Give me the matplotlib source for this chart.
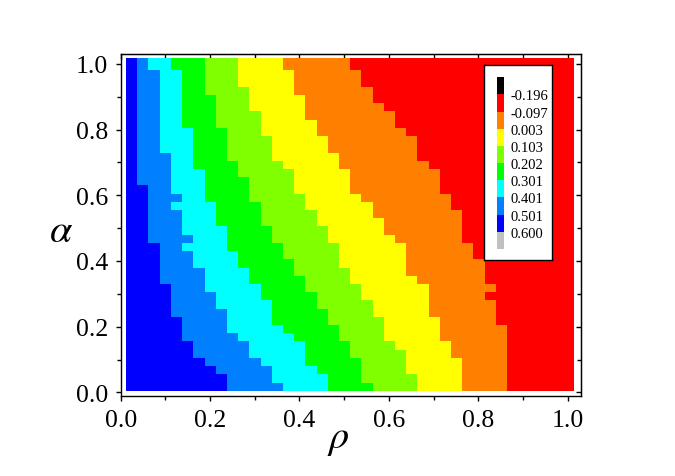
import numpy as np
import matplotlib
matplotlib.use('Agg')
import matplotlib.pyplot as plt
from matplotlib.colors import ListedColormap, BoundaryNorm

plt.rcParams['font.family'] = ['Liberation Serif', 'DejaVu Serif']
plt.rcParams['mathtext.fontset'] = 'stix'

# contour levels shown in the key (top to bottom)
levels = [-0.196, -0.097, 0.003, 0.103, 0.202, 0.301, 0.401, 0.501, 0.600]
level_colors = ['#000000', '#FF0000', '#FF8000', '#FFFF00', '#80FF00',
                '#00FF00', '#00FFFF', '#0080FF', '#0000FF', '#C0C0C0']

# grid: 40 rho columns x 40 alpha rows
# for each row (top row first) the first column index of each colour band
start_dodger = [1, 1, 1, 1, 1, 1, 1, 1, 1, 1, 1, 1, 1, 1, 1, 2, 2, 2, 2, 2,
                2, 2, 3, 3, 3, 3, 3, 4, 4, 4, 4, 5, 5, 5, 6, 6, 7, 8, 9, 9]
start_cyan = [2, 3, 3, 3, 3, 3, 3, 3, 3, 3, 3, 4, 4, 4, 4, 4, 5, 4, 5, 5,
              5, 6, 5, 6, 6, 7, 7, 7, 8, 8, 9, 9, 9, 10, 11, 11, 12, 13, 13, 14]
start_green = [4, 5, 5, 5, 5, 5, 5, 5, 6, 6, 6, 6, 6, 7, 7, 7, 7, 8, 8, 8,
               9, 9, 9, 10, 10, 11, 11, 12, 12, 13, 13, 13, 14, 15, 16, 16, 16,
               17, 18, 18]
start_chart = [7, 7, 7, 7, 8, 8, 8, 8, 9, 9, 9, 9, 10, 10, 11, 11, 11, 12, 12,
               12, 13, 13, 14, 14, 15, 15, 16, 16, 17, 17, 18, 18, 19, 19, 20,
               20, 21, 21, 21, 22]
start_yellow = [10, 10, 10, 11, 11, 11, 12, 12, 12, 13, 13, 13, 14, 15, 15,
                15, 16, 16, 17, 17, 18, 18, 19, 19, 19, 20, 20, 21, 21, 22, 22,
                23, 23, 23, 24, 25, 25, 25, 26, 26]
start_orange = [14, 15, 15, 15, 16, 16, 16, 17, 17, 18, 18, 19, 19, 20, 20,
                20, 21, 22, 22, 23, 23, 24, 25, 25, 25, 25, 26, 27, 27, 27, 27,
                28, 28, 28, 29, 29, 30, 30, 30, 30]
start_red = [20, 21, 21, 22, 22, 23, 24, 24, 25, 26, 26, 26, 27, 28, 28, 28,
             29, 29, 30, 30, 30, 30, 31, 31, 32, 32, 32, 33, 32, 33, 33, 33,
             34, 34, 34, 34, 34, 34, 34, 34]

x_ticks = [0.0, 0.2, 0.4, 0.6, 0.8, 1.0]
x_ticklabels = ['0.0', '0.2', '0.4', '0.6', '0.8', '1.0']
y_ticks = [0.0, 0.2, 0.4, 0.6, 0.8, 1.0]
y_ticklabels = ['0.0', '0.2', '0.4', '0.6', '0.8', '1.0']

# build value matrix (bin mid values) from the band starts
lv = np.array(levels)
mids = (lv[:-1] + lv[1:]) / 2          # red ... blue
starts = np.array([start_dodger, start_cyan, start_green, start_chart,
                   start_yellow, start_orange, start_red])
ncol = 40
cols = np.arange(ncol)
passed = (cols[None, None, :] >= starts[:, :, None]).sum(axis=0)
Z = mids[7 - passed][::-1]              # bottom row first

cmap = ListedColormap(level_colors)
norm = BoundaryNorm([-1.0] + levels + [1.0], cmap.N)

W, H = 675, 477
fig = plt.figure(figsize=(W / 100, H / 100), dpi=100)
ax = fig.add_axes([120.7 / W, 1 - 397.3 / H, (581 - 120.7) / W, (397.3 - 55) / H])

x_edges = np.linspace(0.012, 1.015, ncol + 1)
y_edges = np.r_[0.005 + 0.025 * np.arange(40), 1.018]
ax.pcolormesh(x_edges, y_edges, Z, cmap=cmap, norm=norm,
              edgecolors='none', antialiased=False)

ax.set_xlim(0, 1.03)
ax.set_ylim(-0.012, 1.03)
minor = np.arange(0.1, 1.0, 0.2)
ax.set_xticks(x_ticks)
ax.set_xticklabels(x_ticklabels)
ax.set_yticks(y_ticks)
ax.set_yticklabels(y_ticklabels)
ax.set_xticks(minor, minor=True)
ax.set_yticks(minor, minor=True)
ax.tick_params(which='both', direction='out', labelsize=18.5, pad=5.5,
               width=1, top=False, right=False)
ax.tick_params(which='major', length=3.6)
ax.tick_params(which='minor', length=2.6)
for s in ax.spines.values():
    s.set_linewidth(1)

secx = ax.secondary_xaxis('top')
secx.set_xticks(x_ticks)
secx.set_xticks(minor, minor=True)
secx.tick_params(which='both', direction='in', labeltop=False, width=1)
secx.tick_params(which='major', length=3.6)
secx.tick_params(which='minor', length=2.6)
secy = ax.secondary_yaxis('right')
secy.set_yticks(y_ticks)
secy.set_yticks(minor, minor=True)
secy.tick_params(which='both', direction='in', labelright=False, width=1)
secy.tick_params(which='major', length=3.6)
secy.tick_params(which='minor', length=2.6)

fig.text(338 / W, 1 - 440 / H, r'$\rho$', fontsize=29, ha='center', va='center')
fig.text(61 / W, 1 - 232 / H, r'$\alpha$', fontsize=29, ha='center', va='center')

# key box
box = fig.add_axes([484.3 / W, 1 - 261 / H, (552.3 - 484.3) / W, (261 - 65.7) / H])
box.set_facecolor('white')
box.set_xticks([])
box.set_yticks([])
for s in box.spines.values():
    s.set_linewidth(1)

cax = fig.add_axes([497.3 / W, 1 - 250 / H, 7 / W, (250 - 78.3) / H])
cax.pcolormesh([0, 1], np.arange(len(level_colors) + 1),
               np.arange(len(level_colors)).reshape(-1, 1), cmap=cmap,
               norm=BoundaryNorm(np.arange(-0.5, len(level_colors)), cmap.N),
               edgecolors='none', antialiased=False)
cax.set_ylim(len(level_colors), 0)
cax.set_xlim(0, 1)
cax.set_xticks([])
cax.yaxis.tick_right()
cax.set_yticks(np.arange(1, len(levels) + 1))
cax.set_yticklabels(['%.3f' % v for v in levels])
cax.tick_params(axis='y', length=0, pad=4.2, labelsize=10.5)
for s in cax.spines.values():
    s.set_visible(False)

plt.savefig('out.png', dpi=100)
